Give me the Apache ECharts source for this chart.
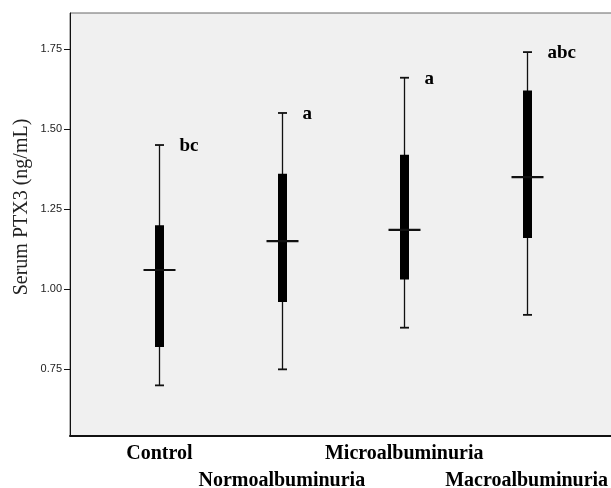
<!DOCTYPE html>
<html>
<head>
<meta charset="utf-8">
<script src="https://cdn.jsdelivr.net/npm/echarts@6/dist/echarts.min.js"></script>
<style>html,body{margin:0;padding:0;background:#fff;}#chart{width:611px;height:488px;}</style>
</head>
<body>
<div id="chart"></div>
<script>
const categories = ['Control', 'Normoalbuminuria', 'Microalbuminuria', 'Macroalbuminuria'];
const whiskerLow = [0.70, 0.75, 0.88, 0.92];
const boxLow = [0.82, 0.96, 1.03, 1.16];
const medians = [1.06, 1.15, 1.185, 1.35];
const boxHigh = [1.20, 1.36, 1.42, 1.62];
const whiskerHigh = [1.45, 1.55, 1.66, 1.74];
const letters = ['bc', 'a', 'a', 'abc'];
const yTicks = [0.75, 1.00, 1.25, 1.50, 1.75];
const yTitle = 'Serum PTX3 (ng/mL)';

const seriesData = categories.map((c, i) => [i, whiskerLow[i], boxLow[i], medians[i], boxHigh[i], whiskerHigh[i]]);
const serif = '"Liberation Serif", "Times New Roman", serif';

function catAxis(values, margin, showLine) {
  return {
    type: 'value', min: -0.73, max: 3.73, position: 'bottom',
    splitLine: { show: false },
    axisTick: { show: false },
    axisLine: { show: showLine, onZero: false, lineStyle: { color: '#111', width: 2 } },
    axisLabel: {
      customValues: values,
      margin: margin,
      hideOverlap: false,
      fontFamily: serif, fontWeight: 'bold', fontSize: 20, color: '#000',
      formatter: function (v) { return categories[Math.round(v)]; }
    }
  };
}

const chart = echarts.init(document.getElementById('chart'));
chart.setOption({
  animation: false,
  backgroundColor: '#fff',
  grid: { left: 70, right: -5, top: 13, bottom: 52, outerBoundsMode: 'none', containLabel: false, show: true, backgroundColor: '#f0f0f0', borderColor: '#666', borderWidth: 1 },
  xAxis: [catAxis([0, 2], 8, true), catAxis([1, 3], 35, false)],
  yAxis: {
    type: 'value', min: 0.542, max: 1.862,
    splitLine: { show: false },
    axisLine: { show: true, onZero: false, lineStyle: { color: '#111', width: 1 } },
    axisTick: { show: true, customValues: yTicks, length: 6, lineStyle: { color: '#111' } },
    axisLabel: {
      customValues: yTicks, margin: 8,
      fontFamily: '"Liberation Sans", Arial, sans-serif', fontSize: 11, color: '#222',
      formatter: function (v) { return v.toFixed(2); }
    }
  },
  graphic: [{
    type: 'text', x: 22, y: 207, rotation: Math.PI / 2,
    style: { text: yTitle, font: '20px ' + serif, fill: '#222', textAlign: 'center', textVerticalAlign: 'middle' }
  }],
  series: [{
    type: 'custom',
    clip: false,
    xAxisIndex: 0,
    encode: { x: 0, y: [1, 2, 3, 4, 5] },
    data: seriesData,
    renderItem: function (params, api) {
      const i = api.value(0);
      const pLow = api.coord([i, api.value(1)]);
      const pQ1 = api.coord([i, api.value(2)]);
      const pMed = api.coord([i, api.value(3)]);
      const pQ3 = api.coord([i, api.value(4)]);
      const pHigh = api.coord([i, api.value(5)]);
      const x = Math.round(pLow[0]) + 0.5;
      const ls = { stroke: '#111', lineWidth: 1.3 };
      return {
        type: 'group',
        children: [
          { type: 'line', shape: { x1: x, y1: pHigh[1], x2: x, y2: pLow[1] }, style: ls },
          { type: 'line', shape: { x1: x - 4.5, y1: pHigh[1], x2: x + 4.5, y2: pHigh[1] }, style: { stroke: '#111', lineWidth: 1.8 } },
          { type: 'line', shape: { x1: x - 4.5, y1: pLow[1], x2: x + 4.5, y2: pLow[1] }, style: { stroke: '#111', lineWidth: 1.8 } },
          { type: 'rect', shape: { x: x - 4.5, y: pQ3[1], width: 9, height: pQ1[1] - pQ3[1] }, style: { fill: '#000' } },
          { type: 'line', shape: { x1: x - 16, y1: pMed[1], x2: x + 16, y2: pMed[1] }, style: { stroke: '#111', lineWidth: 2.2 } },
          { type: 'text', x: x + 20, y: pHigh[1] + 1, style: { text: letters[params.dataIndex], font: 'bold 19px ' + serif, fill: '#000', textAlign: 'left', textVerticalAlign: 'middle' } }
        ]
      };
    }
  }]
});
</script>
</body>
</html>
